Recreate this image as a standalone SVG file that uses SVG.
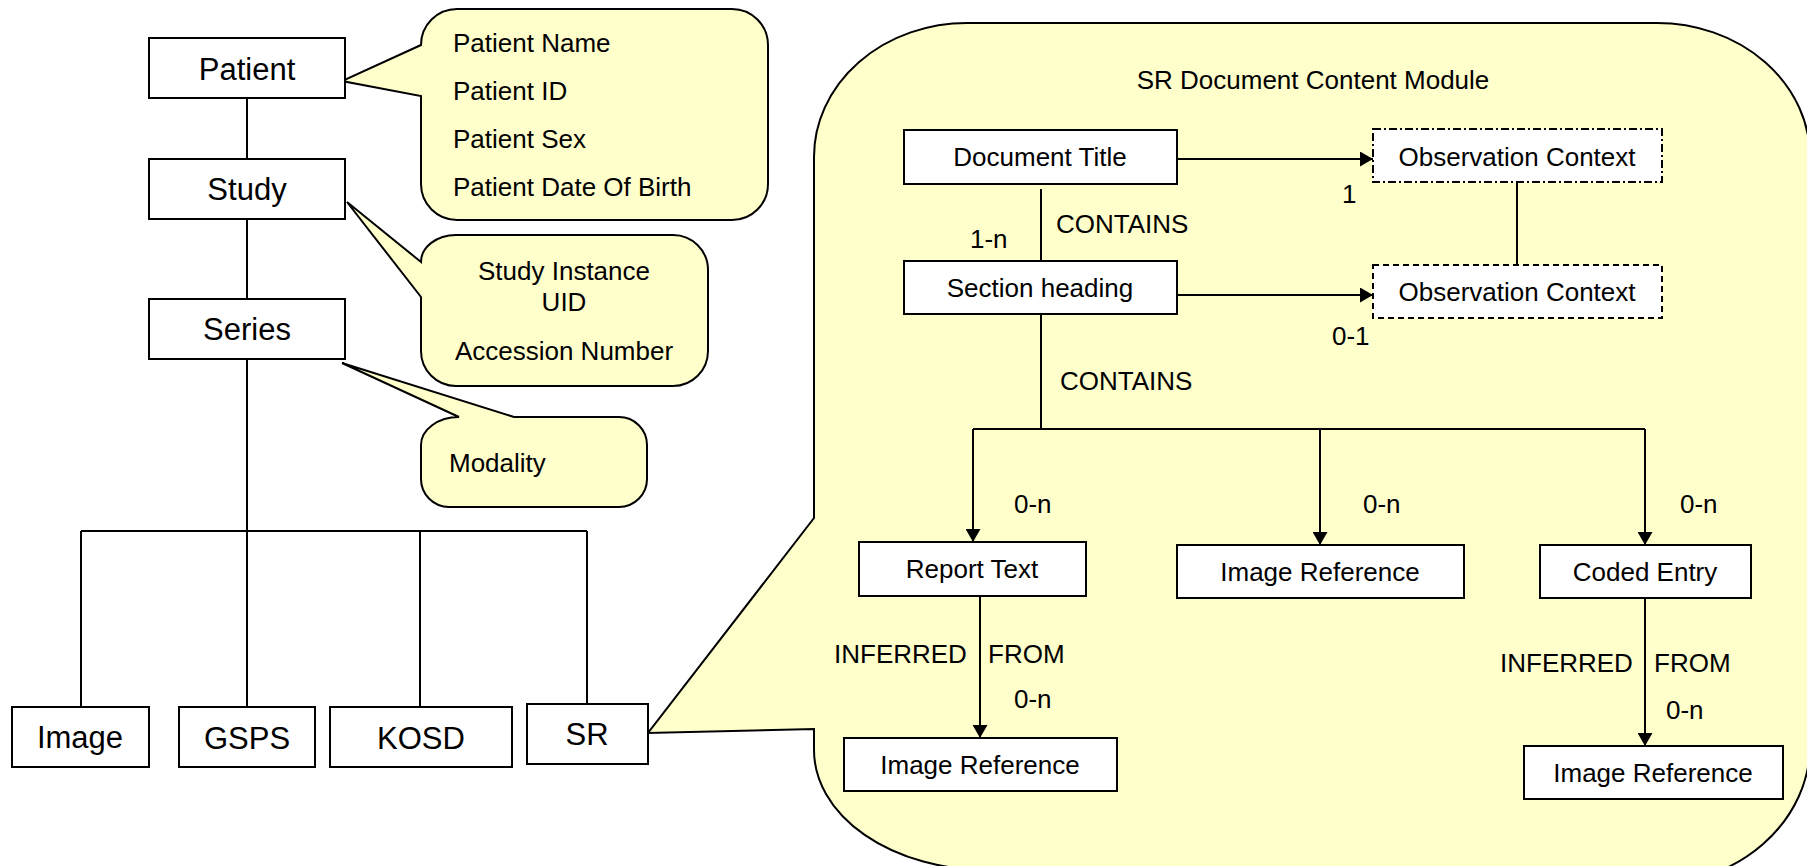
<svg xmlns="http://www.w3.org/2000/svg" width="1807" height="866" viewBox="0 0 1807 866">
<style>
text{font-family:"Liberation Sans",Arial,sans-serif;fill:#000}
.big{font-size:31px;text-anchor:middle}
.t{font-size:26px}
.c{text-anchor:middle}
.box{fill:#fff;stroke:#000;stroke-width:2}
.call{fill:#ffffcc;stroke:#000;stroke-width:2;stroke-linejoin:miter}
.ln{fill:none;stroke:#000;stroke-width:2}
.dd{fill:#fff;stroke:#000;stroke-width:2;stroke-dasharray:8 3 2 3}
.da{fill:#fff;stroke:#000;stroke-width:2;stroke-dasharray:6 4}
</style>
<defs>
<marker id="arr" markerUnits="userSpaceOnUse" viewBox="0 0 13 15" refX="13" refY="7.5" markerWidth="13" markerHeight="15" orient="auto">
<path d="M0,0 L13,7.5 L0,15 Z" fill="#000"/>
</marker>
</defs>
<rect width="1807" height="866" fill="#fff"/>

<g id="callout-patient">
<path class="call" d="M457,9 L732,9 A36,36 0 0 1 768,45 L768,184 A36,36 0 0 1 732,220 L457,220 A36,36 0 0 1 421,184 L421,96 L342,81 L421,45 A36,36 0 0 1 457,9 Z"/>
<text class="t" x="453" y="52">Patient Name</text>
<text class="t" x="453" y="100">Patient ID</text>
<text class="t" x="453" y="148">Patient Sex</text>
<text class="t" x="453" y="196">Patient Date Of Birth</text>
</g>

<g id="callout-study">
<path class="call" d="M456,235 L673,235 A35,35 0 0 1 708,270 L708,351 A35,35 0 0 1 673,386 L456,386 A35,35 0 0 1 421,351 L421,297 L347,202 L421,262 A35,27 0 0 1 456,235 Z"/>
<text class="t c" x="564" y="280">Study Instance</text>
<text class="t c" x="564" y="311">UID</text>
<text class="t c" x="564" y="360">Accession Number</text>
</g>

<g id="callout-series">
<path class="call" d="M459,417 L342,363 L514,417 L619,417 A28,28 0 0 1 647,445 L647,479 A28,28 0 0 1 619,507 L449,507 A28,28 0 0 1 421,479 L421,445 A38,28 0 0 1 459,417 Z"/>
<text class="t" x="449" y="472">Modality</text>
</g>

<g id="callout-sr-module">
<path class="call" d="M814,518 L814,157 A153,134 0 0 1 967,23 L1657,23 A153,134 0 0 1 1810,157 L1810,745 A160,140 0 0 1 1650,885 L987,870 A173,120 0 0 1 814,750 L814,729 L648,733 Z"/>
<text class="t c" x="1313" y="89">SR Document Content Module</text>
</g>

<g id="connectors">
<path class="ln" d="M247,98 V159 M247,219 V299 M247,359 V531 M81,531 H587 M81,531 V707 M247,531 V707 M420,531 V707 M587,531 V704"/>
<path class="ln" d="M1041,189 V261 M1041,314 V429 M973,429 H1645 M1517,182 V265"/>
<line class="ln" x1="1177" y1="159" x2="1373" y2="159" marker-end="url(#arr)"/>
<line class="ln" x1="1177" y1="295" x2="1373" y2="295" marker-end="url(#arr)"/>
<line class="ln" x1="973" y1="429" x2="973" y2="542" marker-end="url(#arr)"/>
<line class="ln" x1="1320" y1="429" x2="1320" y2="545" marker-end="url(#arr)"/>
<line class="ln" x1="1645" y1="429" x2="1645" y2="545" marker-end="url(#arr)"/>
<line class="ln" x1="980" y1="596" x2="980" y2="738" marker-end="url(#arr)"/>
<line class="ln" x1="1645" y1="598" x2="1645" y2="746" marker-end="url(#arr)"/>
<text class="t" x="1056" y="233">CONTAINS</text>
<text class="t" x="970" y="248">1-n</text>
<text class="t" x="1342" y="203">1</text>
<text class="t" x="1332" y="345">0-1</text>
<text class="t" x="1060" y="390">CONTAINS</text>
<text class="t" x="1014" y="513">0-n</text>
<text class="t" x="1363" y="513">0-n</text>
<text class="t" x="1680" y="513">0-n</text>
<text class="t"><tspan x="834" y="663">INFERRED</tspan><tspan x="988" y="663">FROM</tspan></text>
<text class="t" x="1014" y="708">0-n</text>
<text class="t"><tspan x="1500" y="672">INFERRED</tspan><tspan x="1654" y="672">FROM</tspan></text>
<text class="t" x="1666" y="719">0-n</text>
</g>

<g id="patient"><rect class="box" x="149" y="38" width="196" height="60"/><text class="big" x="247" y="80">Patient</text></g>
<g id="study"><rect class="box" x="149" y="159" width="196" height="60"/><text class="big" x="247" y="200">Study</text></g>
<g id="series"><rect class="box" x="149" y="299" width="196" height="60"/><text class="big" x="247" y="340">Series</text></g>
<g id="image"><rect class="box" x="12" y="707" width="137" height="60"/><text class="big" x="80" y="748">Image</text></g>
<g id="gsps"><rect class="box" x="179" y="707" width="136" height="60"/><text class="big" x="247" y="749">GSPS</text></g>
<g id="kosd"><rect class="box" x="330" y="707" width="182" height="60"/><text class="big" x="421" y="749">KOSD</text></g>
<g id="sr"><rect class="box" x="527" y="704" width="121" height="60"/><text class="big" x="587" y="745">SR</text></g>

<g id="document-title"><rect class="box" x="904" y="130" width="273" height="54"/><text class="t c" x="1040" y="166">Document Title</text></g>
<g id="section-heading"><rect class="box" x="904" y="261" width="273" height="53"/><text class="t c" x="1040" y="297">Section heading</text></g>
<g id="obs-context-1"><rect class="dd" x="1373" y="129" width="289" height="53"/><text class="t c" x="1517" y="166">Observation Context</text></g>
<g id="obs-context-2"><rect class="da" x="1373" y="265" width="289" height="53"/><text class="t c" x="1517" y="301">Observation Context</text></g>
<g id="report-text"><rect class="box" x="859" y="542" width="227" height="54"/><text class="t c" x="972" y="578">Report Text</text></g>
<g id="image-reference-mid"><rect class="box" x="1177" y="545" width="287" height="53"/><text class="t c" x="1320" y="581">Image Reference</text></g>
<g id="coded-entry"><rect class="box" x="1540" y="545" width="211" height="53"/><text class="t c" x="1645" y="581">Coded Entry</text></g>
<g id="image-reference-left"><rect class="box" x="844" y="738" width="273" height="53"/><text class="t c" x="980" y="774">Image Reference</text></g>
<g id="image-reference-right"><rect class="box" x="1524" y="746" width="259" height="53"/><text class="t c" x="1653" y="782">Image Reference</text></g>
</svg>
